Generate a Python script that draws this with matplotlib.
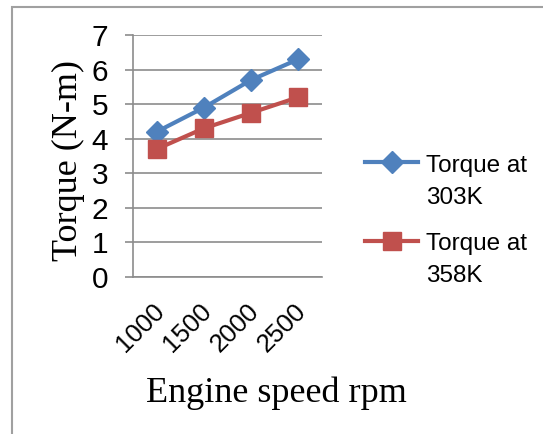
import matplotlib
matplotlib.use('Agg')
from matplotlib import pyplot as plt
from matplotlib.patches import Rectangle
from matplotlib.lines import Line2D
from matplotlib.transforms import ScaledTranslation

speeds = ['1000', '1500', '2000', '2500']
torque_303 = [4.2, 4.9, 5.7, 6.3]
torque_358 = [3.7, 4.3, 4.75, 5.2]
yticks = [0, 1, 2, 3, 4, 5, 6, 7]

blue = '#4F81BD'
red = '#C0504D'
W, H = 543, 434
fig = plt.figure(figsize=(W / 100, H / 100), dpi=100)
ax = fig.add_axes([133 / W, 1 - 277 / H, (322 - 133) / W, (277 - 35) / H])

x = range(len(speeds))
ax.plot(x, torque_303, color=blue, lw=3, marker='D', ms=11, zorder=3)
ax.plot(x, torque_358, color=red, lw=3, marker='s', ms=13, zorder=3)

ax.set_xlim(-0.5, 3.5)
ax.set_ylim(0, 7)
ax.set_yticks(yticks)
ax.set_xticks(list(x))
ax.set_xticklabels(speeds, rotation=45, ha='right', va='center',
                   rotation_mode='anchor')
ax.grid(axis='y', color='#8c8c8c', lw=1.2)
ax.set_axisbelow(True)
for s in ['top', 'right']:
    ax.spines[s].set_visible(False)
for s in ['left', 'bottom']:
    ax.spines[s].set_color('#8c8c8c')
    ax.spines[s].set_linewidth(1.2)
ax.tick_params(axis='y', length=6, color='#8c8c8c', width=1.2, pad=12,
               labelsize=21.5)
ax.tick_params(axis='x', length=0, pad=22, labelsize=18.5)
shift = ScaledTranslation(4 / 100, 0, fig.dpi_scale_trans)
for lab in ax.get_xticklabels():
    lab.set_transform(lab.get_transform() + shift)
for lab in ax.get_xticklabels() + ax.get_yticklabels():
    lab.set_fontfamily('Liberation Sans')

ax.set_ylabel('Torque (N-m)', family='Liberation Serif', fontsize=26)
ax.yaxis.set_label_coords(-0.254, 0.483)
ax.set_xlabel('Engine speed rpm', family='Liberation Serif', fontsize=26)
ax.xaxis.set_label_coords(0.757, -0.413)

# legend drawn by hand: handle level with the first text line
entries = [(blue, 'D', 11, 161.5, ['Torque at', '303K'], 172),
           (red, 's', 13, 241, ['Torque at', '358K'], 250)]
for color, mk, ms, ly, lines, base in entries:
    fig.add_artist(Line2D([365 / W, 391.5 / W, 418 / W], [1 - ly / H] * 3,
                          transform=fig.transFigure, color=color, lw=3,
                          marker=mk, ms=ms, markevery=[1]))
    for i, t in enumerate(lines):
        fig.text(426 / W, 1 - (base + 31.5 * i) / H, t, va='baseline',
                 ha='left', family='Liberation Sans', fontsize=17.5)

fig.patches.append(Rectangle((12 / W, -0.2), 2, 1.2 - 7 / H,
                             transform=fig.transFigure, fill=False,
                             edgecolor='#a0a0a0', lw=1.5))

fig.savefig('out.png', dpi=100)
